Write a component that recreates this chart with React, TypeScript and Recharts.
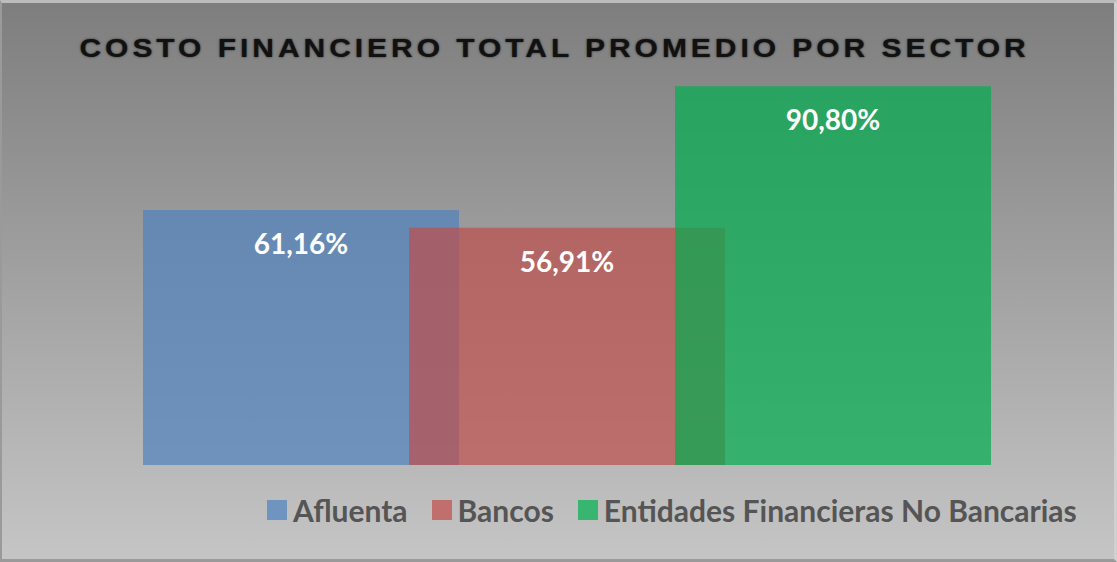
import React from "react";
import { BarChart, Bar, XAxis, YAxis, Legend, LabelList } from "recharts";

const categories = ["Costo Financiero Total Promedio"];
const seriesNames = ["Afluenta", "Bancos", "Entidades Financieras No Bancarias"];
const afluenta = [61.16];
const bancos = [56.91];
const efnb = [90.8];
const seriesColors = ["rgba(79,129,189,0.7)", "rgba(189,78,75,0.7)", "rgba(4,173,80,0.72)"];
const legendColors = ["#7094c0", "#c06f6d", "#38b56f"];

const data = categories.map((c, i) => ({
  name: c,
  a: afluenta[i],
  b: bancos[i],
  c: efnb[i],
}));

const fmt = (v: number) => v.toFixed(2).replace(".", ",") + "%";

const renderLabel = (props: any) => {
  const { x, y, width, value } = props;
  return (
    <text
      x={x + width / 2}
      y={y + 44}
      textAnchor="middle"
      fill="#ffffff"
      fontFamily="Lato, 'Open Sans', sans-serif"
      fontWeight={700}
      fontSize={28}
    >
      {fmt(value)}
    </text>
  );
};

const LegendContent = () => (
  <div style={{ display: "flex", alignItems: "center", fontFamily: "Lato, 'Open Sans', sans-serif", fontWeight: 700, fontSize: 30, color: "#555555", whiteSpace: "nowrap" }}>
    {seriesNames.map((n, i) => (
      <div key={n} style={{ display: "flex", alignItems: "center", marginRight: i < 2 ? 24 : 0 }}>
        <div style={{ width: 20, height: 20, background: legendColors[i], marginRight: 6 }} />
        <span>{n}</span>
      </div>
    ))}
  </div>
);

export default function App() {
  return (
    <div
      style={{
        position: "fixed",
        left: 0,
        top: 0,
        width: 1117,
        height: 562,
        boxSizing: "border-box",
        background: "linear-gradient(to bottom, #7e7e7e 0%, #c5c5c5 100%)",
        borderTop: "3px solid #bcbcbc",
        borderLeft: "2px solid #9a9a9a",
        borderRight: "3px solid #d0d0d0",
        borderBottom: "3px solid #9a9a9a",
        overflow: "hidden",
      }}
    >
      <div
        style={{
          position: "absolute",
          left: 0,
          top: 31,
          width: 1105,
          textAlign: "center",
          fontFamily: "'Liberation Sans', Arial, sans-serif",
          fontWeight: 700,
          fontSize: 25,
          letterSpacing: 3.3,
          color: "#111",
          textShadow: "0 0 2px rgba(0,0,0,0.7)",
          whiteSpace: "nowrap",
          transform: "scaleX(1.2)",
          transformOrigin: "552px 50%",
        }}
      >
        COSTO FINANCIERO TOTAL PROMEDIO POR SECTOR
      </div>
      <div style={{ position: "absolute", left: -2, top: -3 }}>
        <BarChart
          width={1117}
          height={562}
          data={data}
          margin={{ top: 48, right: 125, bottom: 97, left: 142 }}
          barCategoryGap={0}
          barGap={-50}
          barSize={316}
        >
          <XAxis dataKey="name" hide />
          <YAxis hide domain={[0, 100]} />
          <Legend
            layout="horizontal"
            verticalAlign="middle"
            align="center"
            content={<LegendContent />}
            wrapperStyle={{ position: "absolute", left: 267, top: 492, width: "auto" }}
          />
          <Bar dataKey="a" name={seriesNames[0]} fill={seriesColors[0]} isAnimationActive={false}>
            <LabelList dataKey="a" content={renderLabel} />
          </Bar>
          <Bar dataKey="b" name={seriesNames[1]} fill={seriesColors[1]} isAnimationActive={false}>
            <LabelList dataKey="b" content={renderLabel} />
          </Bar>
          <Bar dataKey="c" name={seriesNames[2]} fill={seriesColors[2]} isAnimationActive={false}>
            <LabelList dataKey="c" content={renderLabel} />
          </Bar>
        </BarChart>
      </div>
    </div>
  );
}
